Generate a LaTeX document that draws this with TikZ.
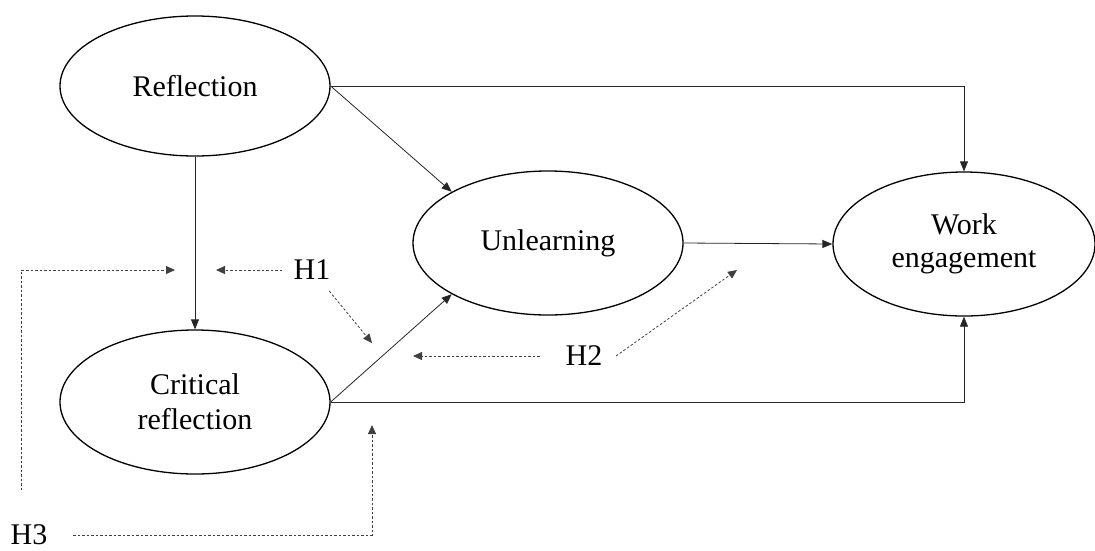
\documentclass[tikz,border=0pt]{standalone}
\usepackage{fontspec}
\setmainfont{Liberation Serif}
\usetikzlibrary{arrows.meta,shapes.geometric}
\begin{document}
\begin{tikzpicture}[x=1pt,y=-1pt,
  construct/.style={ellipse,draw,line width=1.3pt,minimum width=270pt,minimum height=144pt,inner sep=0pt,align=center,font=\fontsize{30}{35}\selectfont},
  hyp/.style={inner sep=11pt,font=\fontsize{30}{35}\selectfont},
  arr/.style={draw=black!85,line width=0.8pt,-{Triangle[length=10pt,width=8pt]}},
  dsh/.style={draw=black!75,line width=0.8pt,dash pattern=on 2.5pt off 2pt,-{Triangle[length=9pt,width=8pt]}}]
\useasboundingbox (0,0) rectangle (1095,550);
\node[construct,minimum height=140pt] (R) at (195,86) {Reflection};
\node[construct] (CR) at (195,402) {Critical\\reflection};
\node[construct] (U) at (548,243) {Unlearning};
\node[construct,minimum width=262pt,font=\fontsize{30}{33}\selectfont] (WE) at (964,244) {Work\\engagement};
\draw[arr] (R.south) -- (CR.north);
\draw[arr] (R.east) -| (WE.north);
\draw[arr] (R.east) -- (U.152);
\draw[arr] (CR.east) -- (U.208);
\draw[arr] (CR.east) -| (WE.south);
\draw[arr] (U.east) -- (WE.west);
\node[hyp] (H1) at (312,270) {H1};
\node[hyp,inner xsep=13.5pt] (H2) at (584,356) {H2};
\node[hyp,inner xsep=25.5pt] (H3) at (29,535) {H3};
\coordinate (t1a) at (216,270);
\coordinate (t1b) at (372,343);
\coordinate (t2a) at (413,356);
\coordinate (t2b) at (737,270);
\coordinate (t3) at (372,425);
\coordinate (c3) at (21,490);
\coordinate (c3b) at (21,270);
\coordinate (t3l) at (175,270);
\draw[dsh] (H1) -- (t1a);
\draw[dsh] (H1) -- (t1b);
\draw[dsh] ([xshift=-12pt]H2.west) -- (t2a);
\draw[dsh] (H2.east) -- (t2b);
\draw[dsh] (H3.east) -| (t3);
\draw[dsh] (c3) -- (c3b) -- (t3l);
\end{tikzpicture}
\end{document}
